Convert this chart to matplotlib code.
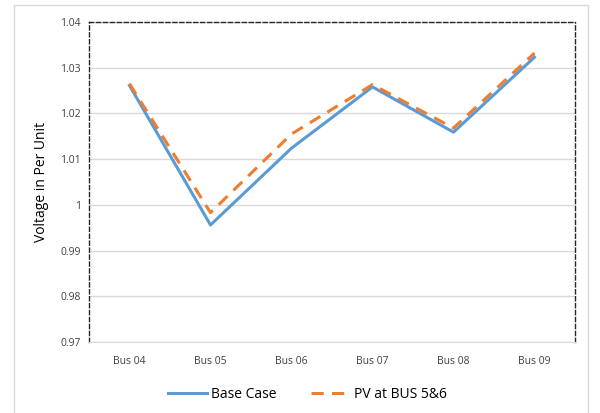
import matplotlib.pyplot as plt
from matplotlib.patches import Rectangle

buses = ['Bus 04', 'Bus 05', 'Bus 06', 'Bus 07', 'Bus 08', 'Bus 09']
base_case = [1.0261, 0.9956, 1.0124, 1.0258, 1.0159, 1.0323]
pv_bus56 = [1.0265, 0.9983, 1.0155, 1.0263, 1.0168, 1.0332]
yticks = [0.97, 0.98, 0.99, 1.00, 1.01, 1.02, 1.03, 1.04]
ytick_labels = ['0.97', '0.98', '0.99', '1', '1.01', '1.02', '1.03', '1.04']

plt.rcParams['font.family'] = ['Open Sans', 'DejaVu Sans']

fig = plt.figure(figsize=(6, 4.13), dpi=100)
fig.patches.append(Rectangle((14 / 600, -0.01), 574 / 600, 1 - 5 / 413 + 0.01,
                             transform=fig.transFigure, fill=False,
                             edgecolor='#d9d9d9', linewidth=1))
ax = fig.add_axes([89 / 600, 71 / 413, 486 / 600, 320 / 413])

x = list(range(len(buses)))
ax.plot(x, base_case, color='#5b9bd5', linewidth=2.2, label='Base Case', zorder=3)
ax.plot(x, pv_bus56, color='#ed7d31', linewidth=2.2, linestyle=(0, (4, 2.7)),
        label='PV at BUS 5&6', zorder=4)

ax.set_xlim(-0.5, 5.5)
ax.set_ylim(0.97, 1.04)
ax.set_xticks(x)
ax.set_xticklabels(buses, fontsize=7.5, color='#404040')
ax.set_yticks(yticks)
ax.set_yticklabels(ytick_labels, fontsize=7.5, color='#404040')
ax.tick_params(length=0, pad=10)
ax.tick_params(axis='y', pad=6)
ax.grid(axis='y', color='#d9d9d9', linewidth=1)
ax.set_axisbelow(True)

for side in ['top', 'left', 'right']:
    ax.spines[side].set_linestyle((0, (3, 2)))
    ax.spines[side].set_color('#262626')
    ax.spines[side].set_linewidth(1)
ax.spines['bottom'].set_color('#d9d9d9')

ax.set_ylabel('Voltage in Per Unit', fontsize=10, labelpad=8)

ax.legend(loc='upper center', bbox_to_anchor=(0.45, -0.1), ncol=2, frameon=False,
          fontsize=10, handlelength=2.8, columnspacing=2.5, handletextpad=0.3)

fig.savefig('out.png', dpi=100)
